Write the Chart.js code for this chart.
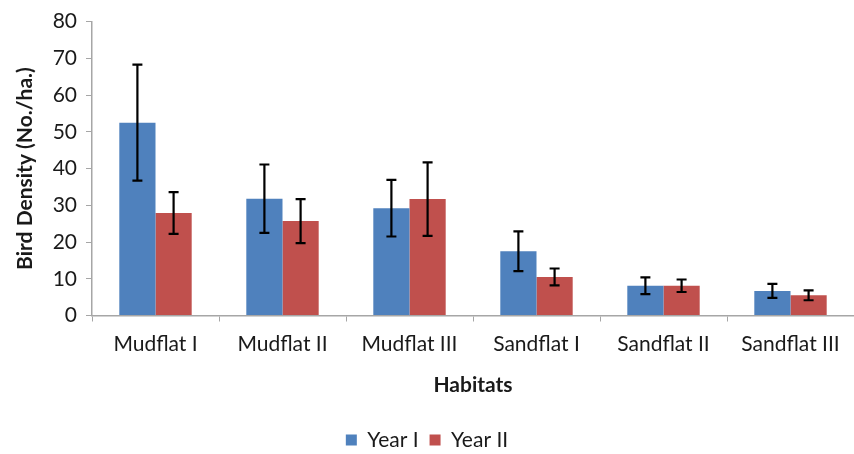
<!DOCTYPE html>
<html>
<head>
<meta charset="utf-8">
<script src="https://cdn.jsdelivr.net/npm/chart.js@4/dist/chart.umd.min.js"></script>
<style>
  html, body { margin: 0; padding: 0; background: #ffffff; }
  #wrap { width: 854px; height: 454px; }
</style>
</head>
<body>
<div id="wrap"><canvas id="chart" width="854" height="454"></canvas></div>
<script>
// Bird density per habitat, two survey years (mean ± error)
const habitats = ['Mudflat I', 'Mudflat II', 'Mudflat III', 'Sandflat I', 'Sandflat II', 'Sandflat III'];
const yearOne = [52.5, 31.8, 29.2, 17.5, 8.1, 6.7];
const yearOneErr = [15.8, 9.3, 7.7, 5.4, 2.3, 1.9];
const yearTwo = [27.9, 25.7, 31.7, 10.5, 8.1, 5.5];
const yearTwoErr = [5.7, 6.0, 10.0, 2.3, 1.7, 1.35];
const yTicks = [0, 10, 20, 30, 40, 50, 60, 70, 80];

const FONT = 'Lato, "Open Sans", sans-serif';
const FONT_SIZE = 21;
const AXIS_GREY = '#a6a6a6';
const TEXT = '#1a1a1a';

// Draws the error bars on top of each bar, using the value scale
const errorBars = {
  id: 'errorBars',
  afterDatasetsDraw(chart) {
    const ctx = chart.ctx;
    const yScale = chart.scales.y;
    ctx.save();
    ctx.strokeStyle = '#000000';
    ctx.lineWidth = 2.2;
    chart.data.datasets.forEach((ds, di) => {
      const meta = chart.getDatasetMeta(di);
      meta.data.forEach((bar, i) => {
        const v = ds.data[i];
        const e = ds.errors[i];
        const x = bar.x;
        const yHi = yScale.getPixelForValue(v + e);
        const yLo = yScale.getPixelForValue(v - e);
        const cap = 5;
        ctx.beginPath();
        ctx.moveTo(x, yHi); ctx.lineTo(x, yLo);
        ctx.moveTo(x - cap, yHi); ctx.lineTo(x + cap, yHi);
        ctx.moveTo(x - cap, yLo); ctx.lineTo(x + cap, yLo);
        ctx.stroke();
      });
    });
    ctx.restore();
  }
};

new Chart(document.getElementById('chart'), {
  type: 'bar',
  data: {
    labels: habitats,
    datasets: [
      { label: 'Year I', data: yearOne, errors: yearOneErr, backgroundColor: '#4f81bd', borderWidth: 0 },
      { label: 'Year II', data: yearTwo, errors: yearTwoErr, backgroundColor: '#c0504d', borderWidth: 0 }
    ]
  },
  options: {
    responsive: false,
    animation: false,
    layout: { padding: { top: 21, right: 0, bottom: -6.5, left: 0 } },
    datasets: { bar: { categoryPercentage: 0.57, barPercentage: 1.0 } },
    plugins: {
      legend: {
        position: 'bottom',
        labels: {
          font: { family: FONT, size: FONT_SIZE },
          color: TEXT,
          boxWidth: 11,
          boxHeight: 11,
          padding: 11
        }
      },
      tooltip: { enabled: false }
    },
    scales: {
      x: {
        grid: { display: true, drawOnChartArea: false, drawTicks: true, tickLength: 6, color: AXIS_GREY },
        border: { display: true, color: AXIS_GREY, width: 1.5 },
        ticks: { font: { family: FONT, size: FONT_SIZE }, color: TEXT, padding: 10, maxRotation: 0, autoSkip: false },
        title: {
          display: true, text: 'Habitats', color: TEXT,
          font: { family: FONT, size: FONT_SIZE, weight: 'bold' },
          padding: { top: 0, bottom: 21 }
        },
        afterFit(scale) { scale.height = 103; }
      },
      y: {
        min: 0, max: 80,
        afterBuildTicks(scale) { scale.ticks = yTicks.map(v => ({ value: v })); },
        grid: { display: true, drawOnChartArea: false, drawTicks: true, tickLength: 6, color: AXIS_GREY },
        border: { display: true, color: AXIS_GREY, width: 1.5 },
        ticks: { font: { family: FONT, size: FONT_SIZE }, color: TEXT, padding: 9 },
        title: {
          display: true, text: 'Bird Density (No./ha.)', color: TEXT,
          font: { family: FONT, size: FONT_SIZE, weight: 'bold' },
          padding: { top: 13, bottom: 0 }
        },
        afterFit(scale) { scale.width = 92; }
      }
    }
  },
  plugins: [errorBars]
});
</script>
</body>
</html>
